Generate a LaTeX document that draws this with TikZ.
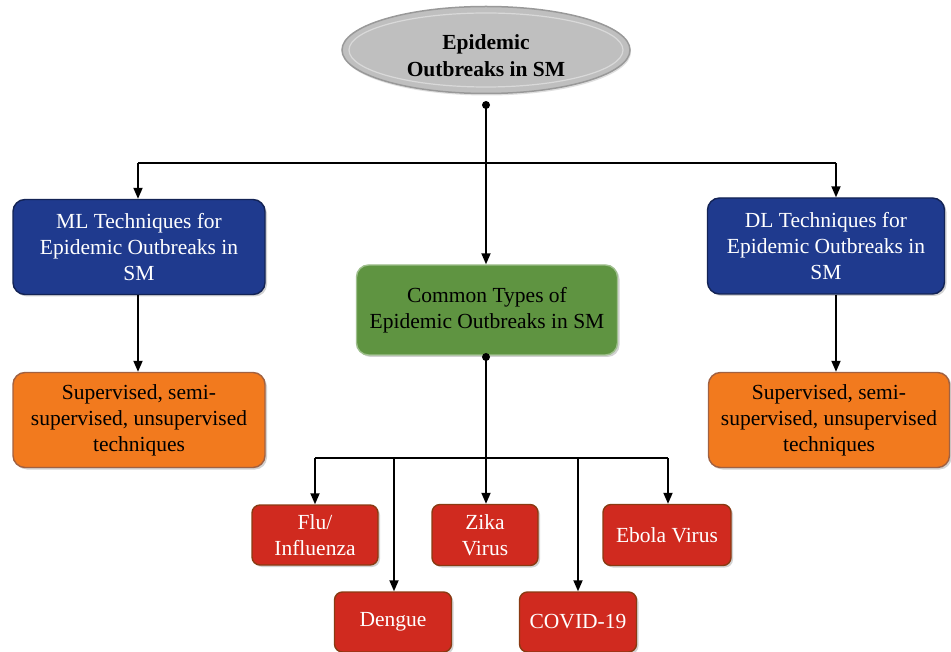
\documentclass[tikz,border=0pt]{standalone}
\usepackage{fontspec}
\setmainfont{Liberation Serif}
\usetikzlibrary{shapes.geometric,arrows.meta,shadows}
\definecolor{navy}{HTML}{1F3A8E}
\definecolor{leaf}{HTML}{5F9441}
\definecolor{orng}{HTML}{F27A1E}
\definecolor{redb}{HTML}{D02A1F}
\definecolor{brn}{HTML}{8A3A12}
\begin{document}
\begin{tikzpicture}[x=1pt,y=-1pt,
  box/.style={rounded corners=12pt,align=center,inner sep=0pt,line width=1.4pt,
    drop shadow={shadow xshift=2pt,shadow yshift=-2pt,fill=black!35}},
  bluebox/.style={box,fill=navy,draw=navy!60!black,text=white,font=\fontsize{21.5}{26}\selectfont},
  orbox/.style={box,fill=orng,draw=brn!80,text=black,font=\fontsize{21.5}{26}\selectfont},
  grbox/.style={box,fill=leaf,draw=leaf!60!white,text=black,font=\fontsize{21.5}{26}\selectfont},
  rdbox/.style={box,rounded corners=8pt,fill=redb,draw=brn,text=white,font=\fontsize{21.5}{26}\selectfont},
  arr/.style={-{Triangle[length=11pt,width=9pt]},line width=1.8pt},
  ln/.style={line width=1.8pt},
  dot/.style={circle,fill=black,inner sep=0pt,minimum size=8pt}]
\useasboundingbox (0,0) rectangle (951,652);
% title
\node[ellipse,minimum width=288pt,minimum height=87pt,fill=black!25,draw=black!40,line width=1.5pt,
  drop shadow={shadow xshift=1pt,shadow yshift=-2pt,fill=black!25}] (top) at (486,50) {};
\node[ellipse,minimum width=274pt,minimum height=74pt,draw=white!85!black,line width=1.2pt] (topin) at (486,50) {};
\node[align=center,font=\bfseries\fontsize{21.5}{27}\selectfont] (toptext) at (486,56) {Epidemic\\Outbreaks in SM};
% boxes
\node[bluebox,minimum width=252pt,minimum height=95pt] (ml) at (139,247) {ML Techniques for\\Epidemic Outbreaks in\\SM};
\node[bluebox,minimum width=237pt,minimum height=96pt] (dl) at (826,246) {DL Techniques for\\Epidemic Outbreaks in\\SM};
\node[orbox,minimum width=252pt,minimum height=95pt] (mlo) at (139,420) {Supervised, semi-\\supervised, unsupervised\\techniques};
\node[orbox,minimum width=241pt,minimum height=95pt] (dlo) at (829,420) {Supervised, semi-\\supervised, unsupervised\\techniques};
\node[grbox,minimum width=261pt,minimum height=90pt] (gr) at (487,310) {Common Types of\\Epidemic Outbreaks in SM};
\node[rdbox,minimum width=126pt,minimum height=60pt] (flu) at (315,535) {Flu/\\Influenza};
\node[rdbox,minimum width=117pt,minimum height=60pt] (den) at (393,622) {Dengue};
\node[rdbox,minimum width=106pt,minimum height=61pt] (zika) at (485,535) {Zika\\Virus};
\node[rdbox,minimum width=117pt,minimum height=60pt] (cov) at (578,622) {COVID-19};
\node[rdbox,minimum width=128pt,minimum height=61pt] (ebo) at (667,535) {Ebola Virus};
% connectors
\node[dot] (d1) at (486,105) {};
\node[dot] (d2) at (486,357) {};
\coordinate (h1) at (486,163);
\coordinate (hl) at (138,163);
\coordinate (hr) at (836,163);
\draw[ln] (d1.center) -- (h1);
\draw[ln] (hl) -- (hr);
\draw[arr] (hl) -- (hl |- ml.north);
\draw[arr] (hr) -- (hr |- dl.north);
\draw[arr] (h1) -- (h1 |- gr.north);
\draw[arr] (ml.south -| hl) -- (hl |- mlo.north);
\draw[arr] (dl.south -| hr) -- (hr |- dlo.north);
\coordinate (h2) at (486,458);
\coordinate (b1) at (315,458);
\coordinate (b2) at (394,458);
\coordinate (b4) at (578,458);
\coordinate (b5) at (668,458);
\draw[ln] (d2.center) -- (h2);
\draw[ln] (b1) -- (b5);
\draw[arr] (b1) -- (b1 |- flu.north);
\draw[arr] (b2) -- (b2 |- den.north);
\draw[arr] (h2) -- (h2 |- zika.north);
\draw[arr] (b4) -- (b4 |- cov.north);
\draw[arr] (b5) -- (b5 |- ebo.north);
\end{tikzpicture}
\end{document}
